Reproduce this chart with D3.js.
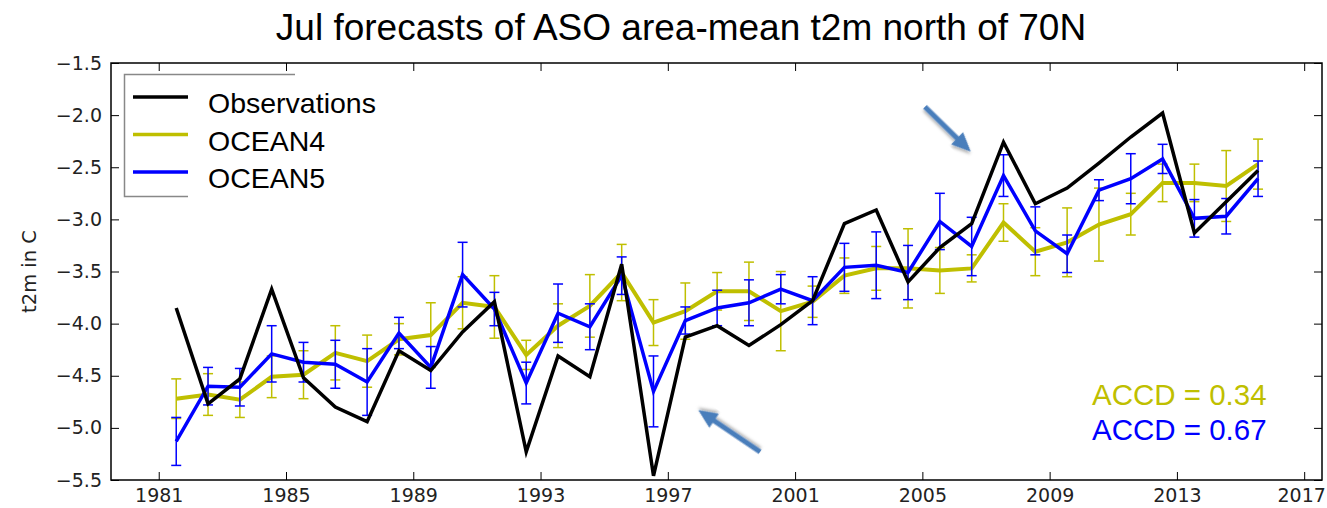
<!DOCTYPE html>
<html>
<head>
<meta charset="utf-8">
<script src="https://cdn.jsdelivr.net/npm/d3@7"></script>
<style>
  body { margin: 0; background: #fff; }
  svg { display: block; }
</style>
</head>
<body>
<div id="chart"></div>
<script>
// forecast years (points sit a bit past the year tick)
const years = d3.range(1981, 2016);
const observations = [-3.85, -4.77, -4.53, -3.67, -4.52, -4.80, -4.94, -4.26, -4.45, -4.08,
                      -3.79, -5.23, -4.31, -4.51, -3.43, -5.46, -4.13, -4.02, -4.21, -4.01,
                      -3.78, -3.04, -2.91, -3.60, -3.27, -3.04, -2.26, -2.85, -2.70, -2.46,
                      -2.21, -1.98, -3.13, -2.83, -2.53];
const ocean4 = [-4.72, -4.68, -4.73, -4.51, -4.49, -4.28, -4.36, -4.15, -4.11, -3.80,
                -3.84, -4.30, -4.02, -3.83, -3.51, -3.99, -3.88, -3.69, -3.69, -3.88,
                -3.79, -3.54, -3.47, -3.47, -3.49, -3.47, -3.03, -3.31, -3.22, -3.05,
                -2.95, -2.65, -2.65, -2.68, -2.47];
const ocean4Err = [0.19, 0.20, 0.17, 0.20, 0.23, 0.26, 0.25, 0.15, 0.31, 0.25,
                   0.30, 0.14, 0.21, 0.30, 0.27, 0.22, 0.27, 0.18, 0.28, 0.38,
                   0.15, 0.17, 0.21, 0.38, 0.22, 0.13, 0.18, 0.23, 0.33, 0.35,
                   0.20, 0.18, 0.18, 0.34, 0.24];
const ocean5 = [-5.13, -4.60, -4.61, -4.29, -4.37, -4.39, -4.56, -4.09, -4.42, -3.53,
                -3.86, -4.57, -3.90, -4.03, -3.54, -4.65, -3.97, -3.85, -3.80, -3.67,
                -3.78, -3.46, -3.44, -3.51, -3.02, -3.26, -2.58, -3.11, -3.33, -2.72,
                -2.61, -2.42, -2.99, -2.97, -2.61];
const ocean5Err = [0.23, 0.18, 0.18, 0.27, 0.19, 0.23, 0.32, 0.15, 0.20, 0.31,
                   0.16, 0.20, 0.28, 0.22, 0.18, 0.34, 0.13, 0.17, 0.22, 0.14,
                   0.23, 0.23, 0.32, 0.26, 0.27, 0.28, 0.20, 0.23, 0.18, 0.10,
                   0.24, 0.14, 0.18, 0.17, 0.17];
const xTicks = d3.range(1981, 2018, 4);
const yTicks = [-5.5, -5.0, -4.5, -4.0, -3.5, -3.0, -2.5, -2.0, -1.5];
const seriesNames = ["Observations", "OCEAN4", "OCEAN5"];
const seriesColors = ["#000000", "#bfbf00", "#0000ff"];
const skillLabels = ["ACCD = 0.34", "ACCD = 0.67"];
// arrows as [tailYear, tailValue, tipYear, tipValue]
const arrows = [[2005.08, -1.92, 2006.52, -2.35], [1999.9, -5.23, 1997.96, -4.83]];

const width = 1327, height = 508;
const margin = { top: 63, right: 5, bottom: 28, left: 111 };
const xOffset = 0.55;

const svg = d3.select("#chart").append("svg")
    .attr("width", width)
    .attr("height", height);

svg.append("rect").attr("width", width).attr("height", height).attr("fill", "#fff");

const x = d3.scaleLinear().domain([1979.5, 2017.56]).range([margin.left, width - margin.right]);
const y = d3.scaleLinear().domain([-5.5, -1.5]).range([height - margin.bottom, margin.top]);

const tickFont = "'DejaVu Sans', sans-serif";
const fmt = d => d3.format(".1f")(d).replace("-", "\u2212");

// axes with inward ticks on all four sides
const gx = svg.append("g")
    .attr("transform", `translate(0,${y.range()[0]})`)
    .call(d3.axisBottom(x).tickValues(xTicks).tickFormat(d3.format("d")).tickSizeInner(-8).tickSizeOuter(0).tickPadding(9));
const gxTop = svg.append("g")
    .attr("transform", `translate(0,${y.range()[1]})`)
    .call(d3.axisTop(x).tickValues(xTicks).tickFormat("").tickSizeInner(-8).tickSizeOuter(0));
const gy = svg.append("g")
    .attr("transform", `translate(${x.range()[0]},0)`)
    .call(d3.axisLeft(y).tickValues(yTicks).tickFormat(fmt).tickSizeInner(-8).tickSizeOuter(0).tickPadding(9));
const gyRight = svg.append("g")
    .attr("transform", `translate(${x.range()[1]},0)`)
    .call(d3.axisRight(y).tickValues(yTicks).tickFormat("").tickSizeInner(-8).tickSizeOuter(0));

[gx, gxTop, gy, gyRight].forEach(g => {
    g.select(".domain").remove();
    g.selectAll("line").attr("stroke", "#000").attr("stroke-width", 1);
    g.selectAll("text").attr("fill", "#222").style("font-family", tickFont).style("font-size", "19px");
});
// keep the last year label inside the page
gx.selectAll(".tick text").filter(d => d === 2017).attr("dx", -3);

// plot frame
svg.append("rect")
    .attr("x", x.range()[0]).attr("y", y.range()[1])
    .attr("width", x.range()[1] - x.range()[0])
    .attr("height", y.range()[0] - y.range()[1])
    .attr("fill", "none").attr("stroke", "#000").attr("stroke-width", 1.5);

// error bars + lines
function drawSeries(vals, errs, color, lw) {
    const g = svg.append("g");
    if (errs) {
        const eb = g.selectAll(".eb").data(years).enter().append("g");
        eb.append("line")
          .attr("x1", (d, i) => x(d + xOffset)).attr("x2", (d, i) => x(d + xOffset))
          .attr("y1", (d, i) => y(vals[i] + errs[i])).attr("y2", (d, i) => y(vals[i] - errs[i]))
          .attr("stroke", color).attr("stroke-width", 1.5);
        [1, -1].forEach(s => {
            eb.append("line")
              .attr("x1", d => x(d + xOffset) - 5).attr("x2", d => x(d + xOffset) + 5)
              .attr("y1", (d, i) => y(vals[i] + s * errs[i])).attr("y2", (d, i) => y(vals[i] + s * errs[i]))
              .attr("stroke", color).attr("stroke-width", 1.5);
        });
    }
    const line = d3.line().x((d, i) => x(years[i] + xOffset)).y(d => y(d));
    g.append("path").datum(vals)
        .attr("fill", "none").attr("stroke", color)
        .attr("stroke-width", lw).attr("stroke-linejoin", "miter")
        .attr("d", line);
}
drawSeries(ocean4, ocean4Err, seriesColors[1], 4);
drawSeries(ocean5, ocean5Err, seriesColors[2], 3.5);
drawSeries(observations, null, seriesColors[0], 3.5);

// legend (frame partly hidden behind a white box)
const legend = svg.append("g");
legend.append("rect").attr("x", 124).attr("y", 74).attr("width", 171).attr("height", 123).attr("fill", "#fff");
legend.append("path")
    .attr("d", "M295,74.5 H124.5 V196.5 H188")
    .attr("fill", "none").attr("stroke", "#888").attr("stroke-width", 1.5);
seriesNames.forEach((name, i) => {
    const ly = 97 + i * 37.5;
    legend.append("line").attr("x1", 133).attr("x2", 188).attr("y1", ly).attr("y2", ly)
        .attr("stroke", seriesColors[i]).attr("stroke-width", 3.5);
    legend.append("text").attr("x", 208).attr("y", ly + 16)
        .style("font-family", "'Liberation Sans', Arial, sans-serif").style("font-size", "28.5px")
        .attr("fill", "#000").text(name);
});

// skill scores
skillLabels.forEach((t, i) => {
    svg.append("text").attr("x", 1092).attr("y", 405 + i * 35)
        .style("font-family", "'Liberation Sans', Arial, sans-serif").style("font-size", "29.5px")
        .attr("fill", seriesColors[i + 1]).text(t);
});

// annotation arrows
const defs = svg.append("defs");
defs.append("filter").attr("id", "shadow")
    .append("feDropShadow").attr("dx", 1.5).attr("dy", 2).attr("stdDeviation", 1.5)
    .attr("flood-color", "#000").attr("flood-opacity", 0.3);
arrows.forEach(a => {
    const x0 = x(a[0]), y0 = y(a[1]), x1 = x(a[2]), y1 = y(a[3]);
    const ang = Math.atan2(y1 - y0, x1 - x0);
    const len = Math.hypot(x1 - x0, y1 - y0);
    const hl = 19, hw = 8.5, sw = 2.6;
    const pts = [[0, -sw], [len - hl, -sw], [len - hl, -hw], [len, 0], [len - hl, hw], [len - hl, sw], [0, sw]];
    svg.append("polygon")
        .attr("points", pts.map(p => p.join(",")).join(" "))
        .attr("transform", `translate(${x0},${y0}) rotate(${ang * 180 / Math.PI})`)
        .attr("fill", "#4a7ebb").attr("filter", "url(#shadow)");
});

// titles
svg.append("text").attr("x", 681).attr("y", 40).attr("text-anchor", "middle")
    .style("font-family", "'Liberation Sans', Arial, sans-serif").style("font-size", "37px")
    .text("Jul forecasts of ASO area-mean t2m north of 70N");
svg.append("text")
    .attr("transform", `translate(36,${(y.range()[0] + y.range()[1]) / 2}) rotate(-90)`)
    .attr("text-anchor", "middle")
    .style("font-family", tickFont).style("font-size", "19.5px").attr("fill", "#222")
    .text("t2m in C");
</script>
</body>
</html>
